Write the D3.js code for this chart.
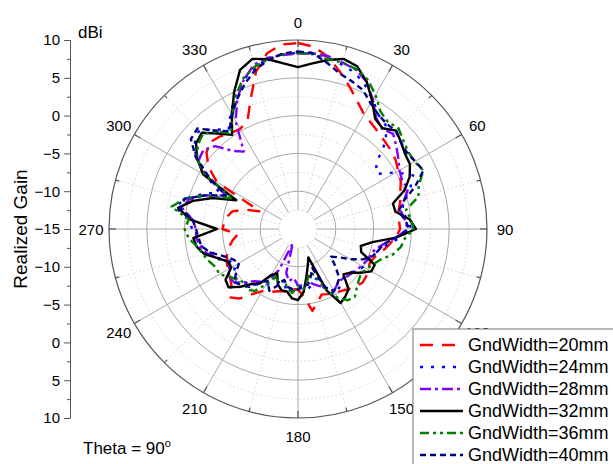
<!DOCTYPE html>
<html>
<head>
<meta charset="utf-8">
<script src="https://cdn.jsdelivr.net/npm/d3@7"></script>
<style>
  body { margin: 0; background: #fff; }
  text { font-family: Arial, "Liberation Sans", sans-serif; fill: #000; }
</style>
</head>
<body>
<div id="chart"></div>
<script>
// angle of each sample, degrees clockwise from top
var angles = d3.range(0, 360, 5)

// realized gain (dBi), one value per angle
var gain20 = [9.6, 9.2, 8.1, 6.5, 5.0, 3.6, 2.5, 2.0, 1.6, 1.3, 1.1, 0.8,
  0.3, 0.0, -0.6, -1.0, -1.5, -1.6, -1.5, -2.0, -2.8, -3.5, -4.2, -4.5,
  -4.3, -4.0, -3.9, -4.3, -4.6, -5.0, -5.2, -5.5, -5.8, -5.0, -4.0, -6.0,
  -7.0, -7.0, -6.5, -6.5, -6.2, -5.8, -5.5, -4.5, -3.0, -2.2, -3.5, -4.0,
  -4.3, -4.6, -5.0, -5.5, -6.2, -7.0, -5.0, -5.2, -5.5, -6.0, -7.5, -9.5,
  -2.6, -0.5, 0.8, 1.3, 1.0, 0.5, 0.3, 0.8, 3.3, 6.5, 8.6, 9.5]
var gain24 = [8.3, 8.4, 8.0, 7.5, 7.0, 6.0, 4.8, 3.5, 3.0, 1.5, -1.5, -2.3,
  0.0, 1.8, 0.8, -0.5, -1.0, -0.5, 0.0, -1.5, -3.0, -4.0, -4.5, -4.8,
  -5.0, -5.5, -6.0, -6.3, -6.0, -5.5, -5.0, -6.0, -8.0, -7.5, -7.0, -6.8,
  -7.5, -7.0, -6.5, -7.8, -7.5, -7.0, -6.5, -6.0, -5.5, -5.0, -4.5, -4.5,
  -5.5, -5.0, -3.5, -3.0, -2.0, -1.5, -1.0, -0.5, 1.5, 0.5, -1.5, -3.5,
  -1.0, 1.5, 2.8, 3.5, 2.2, 1.0, 2.8, 4.5, 6.0, 7.2, 7.8, 8.2]
var gain28 = [8.2, 8.3, 8.2, 7.8, 7.4, 6.5, 4.8, 3.0, 2.3, 2.8, 2.0, 1.2,
  0.5, 0.2, 0.5, -0.5, -1.2, -0.8, -0.5, -2.0, -3.5, -4.5, -4.8, -5.0,
  -5.3, -5.5, -5.8, -6.0, -6.2, -6.0, -5.5, -6.5, -7.0, -7.5, -8.0, -7.5,
  -7.5, -8.5, -8.0, -9.0, -13.0, -9.0, -7.0, -6.5, -6.0, -5.0, -4.0, -3.8,
  -4.5, -4.8, -3.8, -2.5, -1.8, -1.5, -1.5, -1.0, 0.5, 0.0, -2.0, -4.5,
  -1.0, 1.0, 1.3, 0.5, -1.5, -2.5, 1.5, 4.0, 6.0, 7.5, 8.0, 8.1]
var gain32 = [6.4, 7.0, 7.7, 8.3, 7.9, 6.5, 4.6, 2.8, 2.4, 3.4, 2.8, 2.3,
  2.1, 1.3, 0.0, -2.0, -1.9, -0.2, 0.6, -2.0, -5.0, -6.4, -6.1, -3.8,
  -3.8, -4.9, -6.0, -6.5, -4.6, -4.1, -3.7, -6.0, -11.0, -10.0, -8.6, -6.6,
  -5.6, -5.8, -6.6, -6.6, -7.2, -8.5, -8.0, -6.2, -5.5, -4.2, -3.0, -3.3,
  -4.8, -4.8, -3.7, -2.2, -1.4, -1.1, -4.3, -0.7, 1.1, -0.6, -3.0, -6.0,
  -0.5, 1.3, 2.6, 3.0, 1.5, 0.2, 2.5, 5.0, 7.4, 8.3, 7.8, 7.0]
var gain36 = [8.3, 8.2, 7.8, 7.8, 7.5, 6.8, 5.5, 4.0, 3.5, 3.8, 3.2, 2.8,
  2.8, 3.3, 2.0, 1.5, -0.5, 0.0, 0.3, -0.8, -1.2, -2.0, -3.3, -4.0,
  -4.5, -4.8, -4.5, -4.0, -3.3, -3.5, -4.5, -6.0, -8.5, -9.0, -8.0, -7.0,
  -7.5, -6.5, -7.0, -8.0, -7.5, -8.0, -6.5, -5.0, -4.5, -5.0, -4.5, -4.0,
  -3.0, -3.0, -2.5, -2.0, -1.5, -0.5, 0.0, -0.5, 2.0, 0.5, -2.0, -5.5,
  -0.8, 1.3, 2.3, 2.8, 1.8, 0.5, 2.3, 4.5, 6.2, 7.2, 7.8, 8.2]
var gain40 = [8.5, 8.3, 7.3, 6.3, 5.8, 5.3, 4.2, 3.5, 3.2, 3.3, 2.8, 2.6,
  2.9, 3.3, 1.5, -0.5, -1.5, -0.8, -0.3, -2.0, -3.5, -4.0, -4.5, -5.5,
  -7.0, -8.5, -9.3, -8.0, -6.5, -6.0, -5.5, -6.5, -9.5, -8.5, -7.5, -7.5,
  -7.0, -7.0, -7.2, -8.0, -7.0, -6.0, -7.0, -6.5, -5.0, -4.5, -4.0, -5.0,
  -6.0, -5.5, -4.5, -3.0, -2.0, -1.8, -1.5, -1.0, 0.8, 0.5, -2.0, -4.5,
  -1.5, 1.5, 3.5, 3.8, 2.0, 0.8, 2.5, 4.0, 5.5, 6.8, 7.7, 8.3]

var seriesNames = ["GndWidth=20mm", "GndWidth=24mm", "GndWidth=28mm",
  "GndWidth=32mm", "GndWidth=36mm", "GndWidth=40mm"]
var seriesValues = [gain20, gain24, gain28, gain32, gain36, gain40]

var angleTicks = d3.range(0, 360, 30)
var gainTicks = [-15, -10, -5, 0, 5, 10]

// styles
var colors = ["#ff0000", "#0000ff", "#8000ff", "#000000", "#008000", "#000080"]
var dashes = ["13,9", "3,8", "11,4,3,4", null, "9,4,3,4,3,4", "6,4"]

var width = 613
var height = 464
var cx = 298, cy = 229, R = 189

var svg = d3.select("#chart").append("svg")
    .attr("width", width).attr("height", height)

var r = d3.scaleLinear().domain([-15, 10]).range([0, R])
var rad = d => d * Math.PI / 180

var polar = svg.append("g").attr("transform", "translate(" + cx + "," + cy + ")")

// grid circles
var minorGain = d3.range(-12.5, 10, 5)
polar.selectAll(".minor-circle").data(minorGain).enter().append("circle")
    .attr("r", d => r(d)).attr("fill", "none")
    .attr("stroke", "#c8c8c8").attr("stroke-width", 0.8).attr("stroke-dasharray", "1.5,2.5")
polar.selectAll(".major-circle").data([-10, -5, 0, 5]).enter().append("circle")
    .attr("r", d => r(d)).attr("fill", "none")
    .attr("stroke", "#a8a8a8").attr("stroke-width", 1)

// spokes
var minorAngles = d3.range(15, 360, 30)
polar.selectAll(".minor-spoke").data(minorAngles).enter().append("line")
    .attr("x1", d => r(-12.5) * Math.sin(rad(d))).attr("y1", d => -r(-12.5) * Math.cos(rad(d)))
    .attr("x2", d => R * Math.sin(rad(d))).attr("y2", d => -R * Math.cos(rad(d)))
    .attr("stroke", "#c8c8c8").attr("stroke-width", 0.8).attr("stroke-dasharray", "1.5,2.5")
polar.selectAll(".major-spoke").data(angleTicks).enter().append("line")
    .attr("x1", d => r(-12.5) * Math.sin(rad(d))).attr("y1", d => -r(-12.5) * Math.cos(rad(d)))
    .attr("x2", d => R * Math.sin(rad(d))).attr("y2", d => -R * Math.cos(rad(d)))
    .attr("stroke", "#a8a8a8").attr("stroke-width", 1)

// outer circle and its ticks
polar.append("circle").attr("r", R).attr("fill", "none")
    .attr("stroke", "#555").attr("stroke-width", 1.2)
polar.selectAll(".major-tick").data(angleTicks).enter().append("line")
    .attr("x1", d => (R - 7) * Math.sin(rad(d))).attr("y1", d => -(R - 7) * Math.cos(rad(d)))
    .attr("x2", d => R * Math.sin(rad(d))).attr("y2", d => -R * Math.cos(rad(d)))
    .attr("stroke", "#555").attr("stroke-width", 1.2)
polar.selectAll(".minor-tick").data(minorAngles).enter().append("line")
    .attr("x1", d => (R - 4) * Math.sin(rad(d))).attr("y1", d => -(R - 4) * Math.cos(rad(d)))
    .attr("x2", d => R * Math.sin(rad(d))).attr("y2", d => -R * Math.cos(rad(d)))
    .attr("stroke", "#555").attr("stroke-width", 1.2)

polar.selectAll(".angle-label").data(angleTicks).enter().append("text")
    .attr("x", d => 207 * Math.sin(rad(d)))
    .attr("y", d => -207 * Math.cos(rad(d)))
    .attr("text-anchor", "middle").attr("dominant-baseline", "central")
    .style("font-size", "15px")
    .text(d => d)

// curves
var line = d3.lineRadial()
    .angle((d, i) => rad(angles[i]))
    .radius(d => r(d))
    .curve(d3.curveLinearClosed)

polar.selectAll(".series").data(seriesValues).enter().append("path")
    .attr("d", d => line(d))
    .attr("fill", "none")
    .attr("stroke", (d, i) => colors[i])
    .attr("stroke-width", 2.4)
    .attr("stroke-linejoin", "round")
    .attr("stroke-dasharray", (d, i) => dashes[i])

// left radial axis, mirrored about the centre
var axisX = 70
var yTop = d3.scaleLinear().domain([-15, 10]).range([cy, cy - R])
var yBot = d3.scaleLinear().domain([-15, 10]).range([cy, cy + R])
var minorTicks = d3.range(-12.5, 10, 5)

function drawAxis(scale, values) {
    var g = svg.append("g").attr("transform", "translate(" + axisX + ",0)")
    g.call(d3.axisLeft(scale).tickValues(values).tickSize(6).tickPadding(4).tickFormat(d3.format("d")))
    g.select(".domain").attr("stroke", "#555")
    g.selectAll(".tick line").attr("stroke", "#555")
    g.selectAll("text").style("font-size", "15px").style("font-family", "Arial, 'Liberation Sans', sans-serif")
    var m = svg.append("g").attr("transform", "translate(" + axisX + ",0)")
    m.call(d3.axisLeft(scale).tickValues(minorTicks).tickSize(3).tickFormat(""))
    m.select(".domain").remove()
    m.selectAll(".tick line").attr("stroke", "#555")
}
drawAxis(yTop, gainTicks)
drawAxis(yBot, gainTicks.slice(1))

svg.append("text").attr("x", 78).attr("y", 38).style("font-size", "17px").text("dBi")
svg.append("text")
    .attr("transform", "translate(27," + cy + ") rotate(-90)")
    .attr("text-anchor", "middle")
    .style("font-size", "19px")
    .text("Realized Gain")

var theta = svg.append("text").attr("x", 83).attr("y", 454).style("font-size", "17px")
theta.append("tspan").text("Theta = 90")
theta.append("tspan").attr("dy", -7).style("font-size", "11px").text("o")

// legend
var legend = svg.append("g").attr("transform", "translate(413,329)")
legend.append("rect").attr("x", 0).attr("y", 0).attr("width", 215).attr("height", 150)
    .attr("fill", "#fff").attr("stroke", "#777").attr("stroke-width", 1)
var rows = legend.selectAll(".row").data(seriesNames).enter().append("g")
    .attr("transform", (d, i) => "translate(0," + (16 + i * 22) + ")")
rows.append("line")
    .attr("x1", 7).attr("x2", 50).attr("y1", 0).attr("y2", 0)
    .attr("stroke", (d, i) => colors[i])
    .attr("stroke-width", 2.4)
    .attr("stroke-dasharray", (d, i) => dashes[i])
rows.append("text").attr("x", 55).attr("y", 0)
    .attr("dominant-baseline", "central")
    .style("font-size", "18px")
    .text(d => d)
</script>
</body>
</html>
